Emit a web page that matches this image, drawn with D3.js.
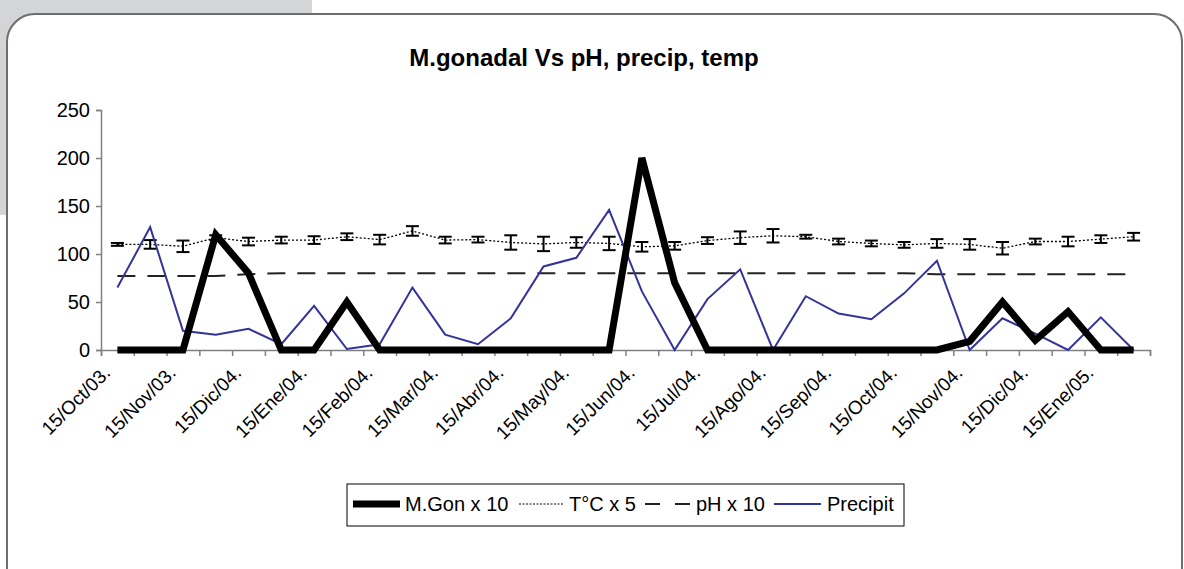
<!DOCTYPE html>
<html>
<head>
<meta charset="utf-8">
<script src="https://cdn.jsdelivr.net/npm/d3@7"></script>
<style>
  body { margin: 0; background: #ffffff; }
  text { font-family: Arial, "Liberation Sans", sans-serif; fill: #000; }
</style>
</head>
<body>
<div id="chart"></div>
<script>
// Data (32 biweekly samples, a label on every other one)
var tickLabels = ["15/Oct/03.", "15/Nov/03.", "15/Dic/04.", "15/Ene/04.", "15/Feb/04.", "15/Mar/04.",
    "15/Abr/04.", "15/May/04.", "15/Jun/04.", "15/Jul/04.", "15/Ago/04.", "15/Sep/04.",
    "15/Oct/04.", "15/Nov/04.", "15/Dic/04.", "15/Ene/05."];
var mGon = [0, 0, 0, 120, 80, 0, 0, 50, 0, 0, 0, 0, 0, 0, 0, 0,
    200, 70, 0, 0, 0, 0, 0, 0, 0, 0, 9, 50, 10, 40, 0, 0];
var tempC = [110, 110, 108, 117, 113, 114.5, 114.5, 118, 115, 124, 114.5, 115, 112, 110.5, 112, 111,
    107.5, 108.5, 114, 117, 119, 118, 113, 111, 109.5, 111, 110, 106, 113, 113, 115.5, 118];
var tempErr = [1.5, 4.5, 6, 2.5, 4, 3.5, 4, 3.5, 5, 5, 3.5, 3, 7.5, 7.5, 5.5, 7,
    5, 4, 3.5, 6.5, 7, 2, 3, 3, 3, 4.5, 5.5, 6.5, 3, 5, 4, 4];
var pH = [77, 77, 77, 77, 79, 80, 80, 80, 80, 80, 80, 80, 80, 80, 80, 80,
    80, 80, 80, 80, 80, 80, 80, 80, 80, 79, 79, 79, 79, 79, 79, 79];
var precip = [65, 128, 20, 16, 22, 6, 46, 1, 6, 65, 16, 6, 33, 87, 96, 146,
    61, 0, 53, 84, 0, 56, 38, 32, 59, 93, 0, 33, 17, 0, 34, 0];
var yTicks = [0, 50, 100, 150, 200, 250];

var W = 1184, H = 569;
var svg = d3.select("#chart").append("svg")
    .attr("width", W)
    .attr("height", H);

// grey block behind the top-left corner and the rounded frame
svg.append("rect").attr("x", 0).attr("y", 0).attr("width", 312).attr("height", 215).attr("fill", "#d4d5d6");
svg.append("rect")
    .attr("x", 7).attr("y", 14).attr("width", 1175).attr("height", 600)
    .attr("rx", 28).attr("ry", 28)
    .attr("fill", "#fff").attr("stroke", "#6e6e6e").attr("stroke-width", 2);

// title
svg.append("text")
    .attr("x", 584).attr("y", 66)
    .attr("text-anchor", "middle")
    .style("font-size", "24px").style("font-weight", "bold")
    .text("M.gonadal Vs pH, precip, temp");

var n = mGon.length;
var plotL = 101, plotR = 1150, plotT = 110, plotB = 350;

// Scales
var xEdge = d3.scaleLinear().domain([0, n]).range([plotL, plotR]);
var xC = function(i) { return xEdge(i + 0.5); };
var y = d3.scaleLinear().domain([0, 250]).range([plotB, plotT]);

// Axes
var yAxis = d3.axisLeft(y).tickValues(yTicks).tickSize(5).tickPadding(6);
var gy = svg.append("g").attr("transform", "translate(" + plotL + ",0)").call(yAxis);
gy.selectAll("text").style("font-size", "20px").style("font-family", "Arial, 'Liberation Sans', sans-serif");

var xAxis = d3.axisBottom(xEdge).tickValues(d3.range(n + 1)).tickSize(6).tickFormat("");
svg.append("g").attr("transform", "translate(0," + plotB + ")").call(xAxis);

svg.selectAll(".domain, .tick line").attr("stroke", "#808080").attr("stroke-width", 1.5);

// rotated date labels on every other category
svg.append("g").selectAll("text")
    .data(tickLabels)
    .enter()
    .append("text")
    .attr("text-anchor", "end")
    .style("font-size", "19px")
    .attr("transform", function(d, i) {
        return "translate(" + (xC(i * 2) - 6) + "," + (plotB + 24) + ") rotate(-45)";
    })
    .text(function(d) { return d; });

// Lines
var line = d3.line()
    .x(function(d, i) { return xC(i); })
    .y(function(d) { return y(d); });

svg.append("path").datum(pH)
    .attr("d", line).attr("fill", "none")
    .attr("stroke", "#222").attr("stroke-width", 2)
    .attr("stroke-dasharray", "18,12");

svg.append("path").datum(tempC)
    .attr("d", line).attr("fill", "none")
    .attr("stroke", "#000").attr("stroke-width", 1.3)
    .attr("stroke-dasharray", "2,2");

// error bars on temperature
var eb = svg.append("g").selectAll("g")
    .data(tempC)
    .enter()
    .append("g")
    .attr("stroke", "#000").attr("stroke-width", 2);
eb.append("line")
    .attr("x1", function(d, i) { return xC(i); })
    .attr("x2", function(d, i) { return xC(i); })
    .attr("y1", function(d, i) { return y(d + tempErr[i]); })
    .attr("y2", function(d, i) { return y(d - tempErr[i]); });
eb.append("line")
    .attr("x1", function(d, i) { return xC(i) - 6.5; })
    .attr("x2", function(d, i) { return xC(i) + 6.5; })
    .attr("y1", function(d, i) { return y(d + tempErr[i]); })
    .attr("y2", function(d, i) { return y(d + tempErr[i]); });
eb.append("line")
    .attr("x1", function(d, i) { return xC(i) - 6.5; })
    .attr("x2", function(d, i) { return xC(i) + 6.5; })
    .attr("y1", function(d, i) { return y(d - tempErr[i]); })
    .attr("y2", function(d, i) { return y(d - tempErr[i]); });

svg.append("path").datum(precip)
    .attr("d", line).attr("fill", "none")
    .attr("stroke", "#333399").attr("stroke-width", 2);

svg.append("path").datum(mGon)
    .attr("d", line).attr("fill", "none")
    .attr("stroke", "#000").attr("stroke-width", 7)
    .attr("stroke-linejoin", "miter");

// Legend
var lg = svg.append("g");
lg.append("rect").attr("x", 347).attr("y", 484).attr("width", 557).attr("height", 42)
    .attr("fill", "#fff").attr("stroke", "#000").attr("stroke-width", 1);
var legendItems = [
    { name: "M.Gon x 10", x1: 353, x2: 400, tx: 405, stroke: "#000", w: 7, dash: null },
    { name: "T\u00B0C x 5", x1: 519, x2: 564, tx: 569, stroke: "#000", w: 1, dash: "2,1.5" },
    { name: "pH x 10", x1: 645, x2: 690, tx: 696, stroke: "#222", w: 2, dash: "15,15" },
    { name: "Precipit", x1: 774, x2: 821, tx: 827, stroke: "#333399", w: 2, dash: null }
];
legendItems.forEach(function(d) {
    lg.append("line").attr("x1", d.x1).attr("x2", d.x2).attr("y1", 504).attr("y2", 504)
        .attr("stroke", d.stroke).attr("stroke-width", d.w)
        .attr("stroke-dasharray", d.dash);
    lg.append("text").attr("x", d.tx).attr("y", 511)
        .style("font-size", "20px")
        .text(d.name);
});
</script>
</body>
</html>
